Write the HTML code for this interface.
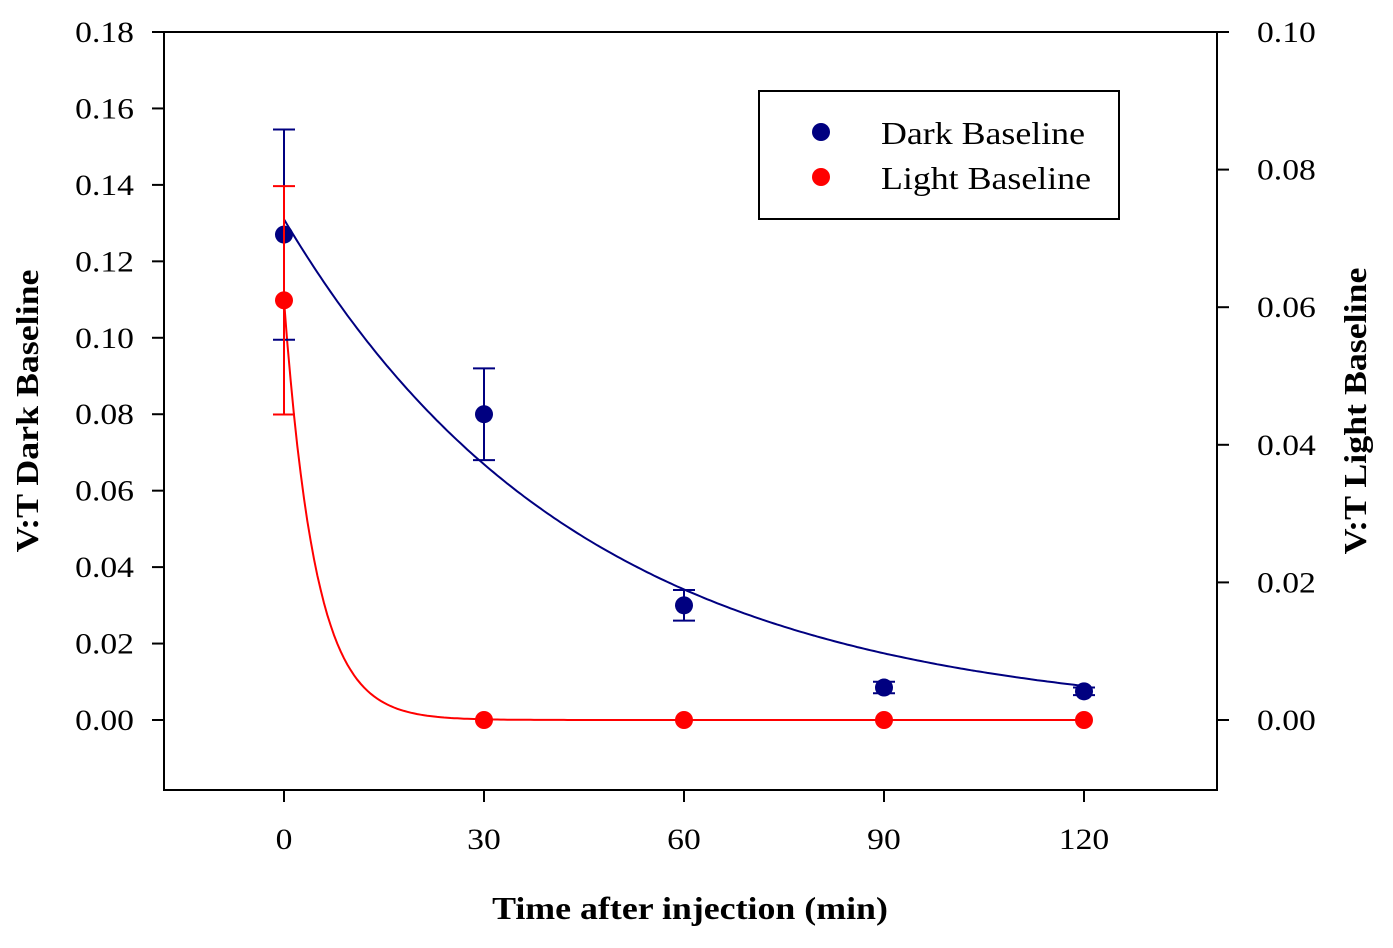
<!DOCTYPE html>
<html><head><meta charset="utf-8"><style>
body{margin:0;background:#fff;}
svg{display:block;font-family:"Liberation Serif",serif;}
</style></head><body>
<svg id="chart" width="1393" height="948" xmlns="http://www.w3.org/2000/svg">
<rect x="164" y="32" width="1053" height="758" fill="none" stroke="#000" stroke-width="2"/>
<g id="axes"></g>
<g id="marks"></g>
<text x="38" y="411" font-size="32" font-weight="bold" text-anchor="middle" transform="rotate(-90 38 411)">V:T Dark Baseline</text>
<text x="1366" y="411" font-size="32" font-weight="bold" text-anchor="middle" transform="rotate(-90 1366 411)">V:T Light Baseline</text>
<text x="690" y="919" font-size="32" font-weight="bold" text-anchor="middle">Time after injection (min)</text>
<g>
<rect x="759" y="91" width="360" height="128" fill="#fff" stroke="#000" stroke-width="2"/>
<circle cx="821" cy="132" r="9" fill="#000080"/>
<text x="881" y="144" font-size="32">Dark Baseline</text>
<circle cx="821" cy="177" r="9" fill="#ff0000"/>
<text x="881" y="189" font-size="32">Light Baseline</text>
</g>
</svg>
<script>
const times=[0,30,60,90,120];
const darkValues=[0.127,0.080,0.030,0.0085,0.0075];
const darkErrors=[0.0275,0.012,0.004,0.0015,0.001];
const lightValues=[0.061,0,0,0,0];
const lightErrors=[0.0166,0,0,0,0];
const darkFit=[0.131,0.0224];
const lightFit=[0.061,0.213];
const xTicks=[0,30,60,90,120];
const yLeftTicks=[0,0.02,0.04,0.06,0.08,0.10,0.12,0.14,0.16,0.18];
const yRightTicks=[0,0.02,0.04,0.06,0.08,0.10];
const NS="http://www.w3.org/2000/svg";
const X=t=>284+(t/30)*200;
const YL=v=>720-v/0.18*688;
const YR=v=>720-v/0.10*688;
function mk(tag,at,parent){const e=document.createElementNS(NS,tag);for(const k in at)e.setAttribute(k,at[k]);parent.appendChild(e);return e;}
const ax=document.getElementById('axes'),mg=document.getElementById('marks');
xTicks.forEach(t=>{
 const l=mk('line',{x1:X(t),x2:X(t),y1:790,y2:802,stroke:'#000','stroke-width':2},ax);
 
 
 const tx=mk('text',{x:X(t),y:849,'font-size':30,'text-anchor':'middle'},ax);tx.textContent=t;
 
 
});
yLeftTicks.forEach(v=>{
 const l=mk('line',{x1:152,x2:164,y1:YL(v),y2:YL(v),stroke:'#000','stroke-width':2},ax);
 
 
 const tx=mk('text',{x:134,y:YL(v)+10,'font-size':30,'text-anchor':'end'},ax);tx.textContent=v.toFixed(2);
 
 
});
yRightTicks.forEach(v=>{
 const l=mk('line',{x1:1217,x2:1229,y1:YR(v),y2:YR(v),stroke:'#000','stroke-width':2},ax);
 
 
 const tx=mk('text',{x:1257,y:YR(v)+10,'font-size':30},ax);tx.textContent=v.toFixed(2);
 
 
});
function curve(fit,Y,color,name){
 let d='';for(let t=0;t<=120;t+=0.5){d+=(t?'L':'M')+X(t).toFixed(1)+','+Y(fit[0]*Math.exp(-fit[1]*t)).toFixed(1);}
 const p=mk('path',{d:d,fill:'none',stroke:color,'stroke-width':2},mg);
 
 
}
function series(vals,errs,Y,color,name){
 vals.forEach((v,i)=>{
  const x=X(times[i]);
  if(errs[i]>0){
   const top=Y(v+errs[i]),bot=Y(v-errs[i]);
   const g=mk('path',{d:`M${x},${top}L${x},${bot}M${x-11},${top}L${x+11},${top}M${x-11},${bot}L${x+11},${bot}`,stroke:color,'stroke-width':2,fill:'none'},mg);
   
   
  }
  const c=mk('circle',{cx:x,cy:Y(v),r:9,fill:color},mg);
  
  
 });
}
curve(darkFit,YL,'#000080','dark-fit-curve');
curve(lightFit,YR,'#ff0000','light-fit-curve');
series(darkValues,darkErrors,YL,'#000080','dark');
series(lightValues,lightErrors,YR,'#ff0000','light');
document.querySelectorAll('#chart text').forEach(t=>{
 const w=t.getComputedTextLength();
 t.setAttribute('textLength',(w*1.12).toFixed(1));
 t.setAttribute('lengthAdjust','spacingAndGlyphs');
});
</script>
</body></html>
